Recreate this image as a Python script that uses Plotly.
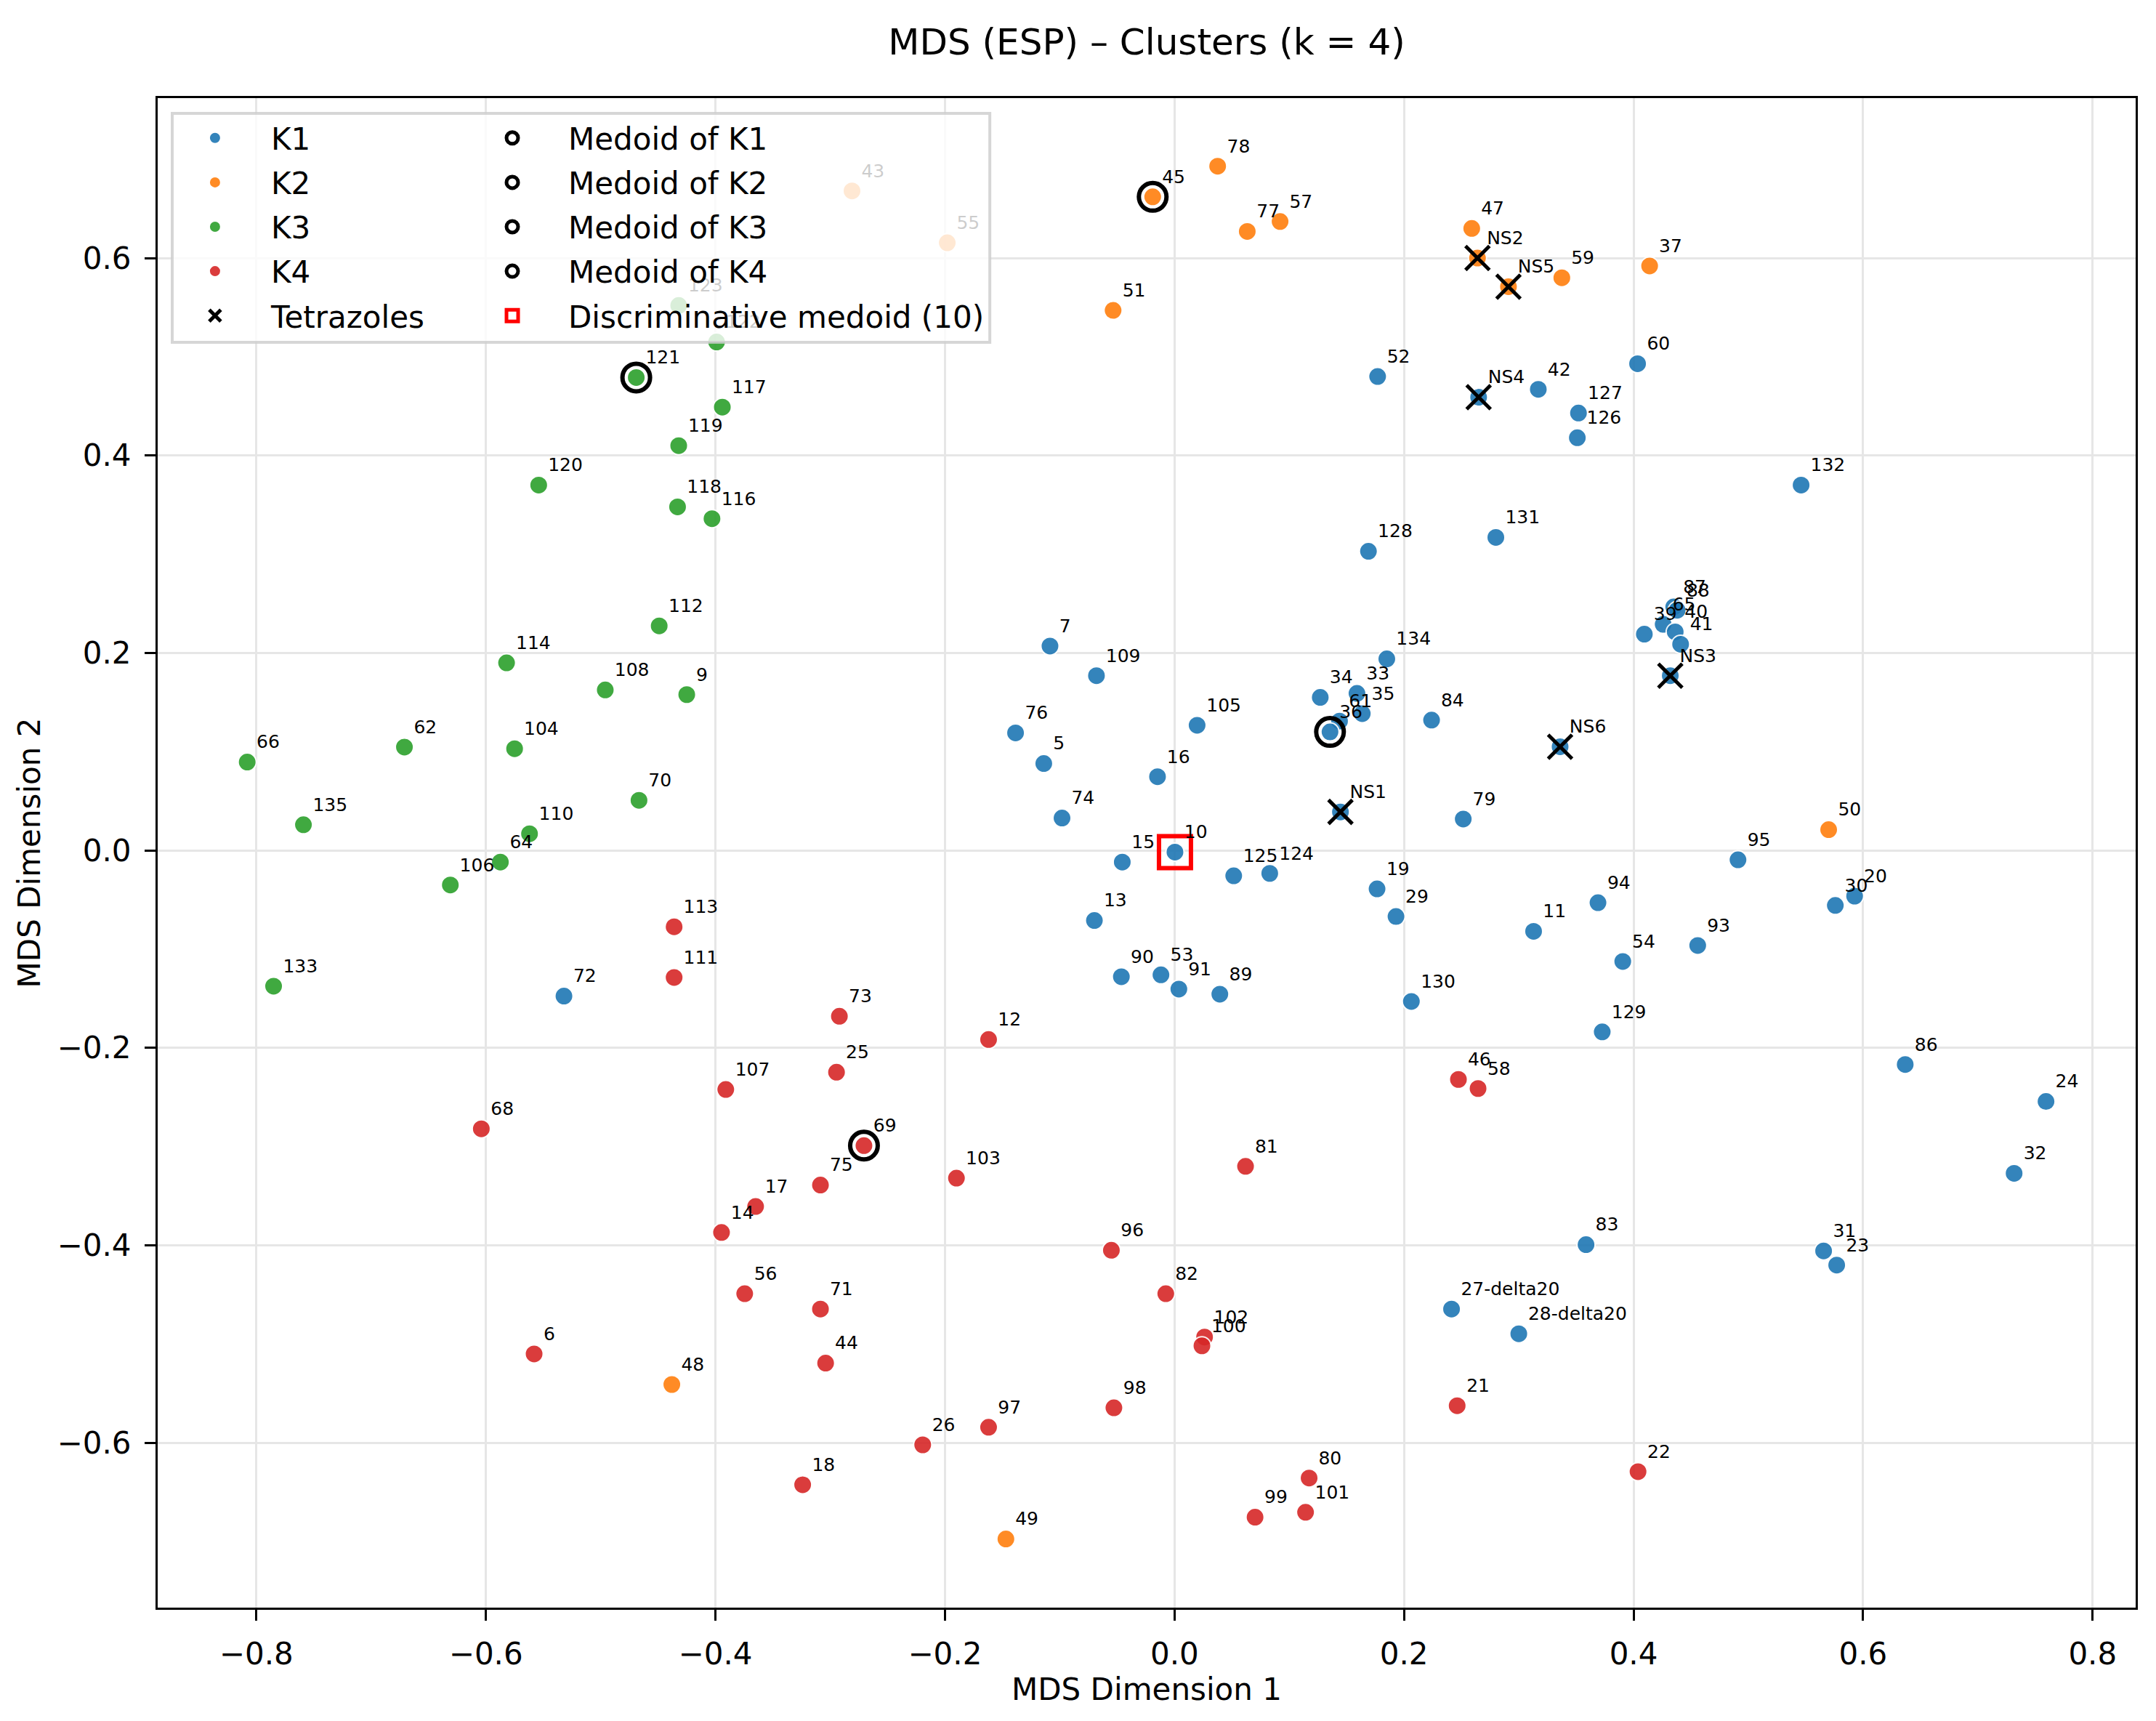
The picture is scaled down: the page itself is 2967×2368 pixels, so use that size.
import plotly.graph_objects as go

FONT = "DejaVu Sans"

# ---------------- data ----------------
k1_labels = ["52", "42", "60", "127", "126", "132", "128", "131", "87", "88", "65", "39", "40", "41",
             "134", "34", "33", "35", "61", "36", "84", "7", "109", "76", "5", "105", "16", "74", "79",
             "10", "15", "125", "124", "19", "29", "11", "94", "95", "30", "20", "13", "90", "53", "91",
             "89", "130", "54", "93", "129", "86", "24", "32", "83", "31", "23", "27-delta20",
             "28-delta20", "72", "NS1", "NS3", "NS4", "NS6"]
k1_x = [0.177, 0.317, 0.4035, 0.352, 0.351, 0.546, 0.169, 0.280, 0.435, 0.438, 0.4258, 0.4094, 0.4363,
        0.441, 0.185, 0.127, 0.159, 0.1636, 0.1438, 0.1355, 0.224, -0.1085, -0.068, -0.1385, -0.1139,
        0.0197, -0.0148, -0.098, 0.2516, 0.0004, -0.0455, 0.0516, 0.083, 0.1765, 0.193, 0.3129, 0.369,
        0.491, 0.5758, 0.5926, -0.0698, -0.0463, -0.0118, 0.0038, 0.0395, 0.2064, 0.3906, 0.4559, 0.3727,
        0.6367, 0.7594, 0.7316, 0.3586, 0.5656, 0.577, 0.2414, 0.300, -0.532, 0.1446, 0.432, 0.265, 0.336]
k1_y = [0.480, 0.467, 0.493, 0.443, 0.418, 0.370, 0.303, 0.317, 0.2466, 0.2432, 0.229, 0.219, 0.2213,
        0.2088, 0.194, 0.155, 0.159, 0.1385, 0.131, 0.120, 0.132, 0.207, 0.177, 0.119, 0.088, 0.1267,
        0.0747, 0.0328, 0.0318, -0.0017, -0.0118, -0.0257, -0.0233, -0.039, -0.067, -0.082, -0.053,
        -0.0095, -0.0557, -0.0463, -0.071, -0.128, -0.126, -0.1405, -0.1456, -0.153, -0.1125, -0.0963,
        -0.1838, -0.2169, -0.2543, -0.3271, -0.3993, -0.4057, -0.420, -0.4646, -0.4896, -0.1476, 0.039,
        0.177, 0.459, 0.105]

k2_labels = ["43", "55", "45", "78", "77", "57", "51", "47", "59", "37", "50", "48", "49", "NS2", "NS5"]
k2_x = [-0.281, -0.198, -0.019, 0.0376, 0.0634, 0.092, -0.0535, 0.259, 0.3375, 0.414, 0.570, -0.438,
        -0.1469, 0.264, 0.291]
k2_y = [0.668, 0.6155, 0.662, 0.693, 0.627, 0.637, 0.547, 0.630, 0.580, 0.592, 0.021, -0.541, -0.6975,
        0.600, 0.571]

k3_labels = ["123", "122", "121", "117", "119", "120", "118", "116", "112", "114", "108", "9", "66",
             "62", "104", "70", "135", "110", "64", "106", "133"]
k3_x = [-0.432, -0.399, -0.469, -0.394, -0.432, -0.554, -0.433, -0.403, -0.449, -0.582, -0.496, -0.425,
        -0.808, -0.671, -0.575, -0.4666, -0.759, -0.562, -0.5874, -0.631, -0.785]
k3_y = [0.552, 0.515, 0.479, 0.449, 0.410, 0.370, 0.348, 0.336, 0.2274, 0.190, 0.1625, 0.1578, 0.0895,
        0.1047, 0.103, 0.0507, 0.026, 0.0169, -0.0118, -0.035, -0.1375]

k4_labels = ["113", "111", "73", "12", "107", "25", "68", "69", "103", "81", "46", "58", "75", "17",
             "14", "96", "56", "71", "82", "102", "100", "6", "44", "98", "97", "26", "18", "99", "101",
             "80", "21", "22"]
k4_x = [-0.436, -0.436, -0.292, -0.162, -0.391, -0.2945, -0.604, -0.2706, -0.190, 0.0619, 0.2474, 0.2645,
        -0.3085, -0.365, -0.3947, -0.055, -0.3745, -0.3085, -0.0076, 0.0262, 0.0239, -0.558, -0.304,
        -0.0528, -0.162, -0.2194, -0.324, 0.0702, 0.1142, 0.1173, 0.2463, 0.4039]
k4_y = [-0.0774, -0.1287, -0.168, -0.1916, -0.2422, -0.2247, -0.282, -0.299, -0.332, -0.320, -0.232,
        -0.2412, -0.339, -0.3607, -0.387, -0.405, -0.449, -0.4646, -0.449, -0.4929, -0.5018, -0.510,
        -0.5193, -0.5646, -0.5843, -0.6021, -0.6425, -0.6754, -0.6704, -0.6357, -0.5625, -0.6293]

cluster_names = ["K1", "K2", "K3", "K4"]
cluster_colors = ["#1f77b4", "#ff7f0e", "#2ca02c", "#d62728"]
tetrazole_labels = ["NS1", "NS2", "NS3", "NS4", "NS5", "NS6"]
medoid_labels = ["36", "45", "121", "69"]
discriminative_label = "10"

x_ticks = [-0.8, -0.6, -0.4, -0.2, 0.0, 0.2, 0.4, 0.6, 0.8]
y_ticks = [-0.6, -0.4, -0.2, 0.0, 0.2, 0.4, 0.6]

# ---------------- figure ----------------
clusters = [(k1_labels, k1_x, k1_y), (k2_labels, k2_x, k2_y),
            (k3_labels, k3_x, k3_y), (k4_labels, k4_x, k4_y)]
lookup = {}
for labs, xs, ys in clusters:
    for lab, xv, yv in zip(labs, xs, ys):
        lookup[lab] = (xv, yv)

fig = go.Figure()

for (labs, xs, ys), name, color in zip(clusters, cluster_names, cluster_colors):
    fig.add_trace(go.Scatter(
        x=xs, y=ys, mode="markers", name=name, text=labs, legend="legend", legendgroup=name,
        marker=dict(color=color, size=25, opacity=0.9, line=dict(color="white", width=2)),
        hovertemplate="%{text}<br>(%{x:.3f}, %{y:.3f})<extra>" + name + "</extra>"))

fig.add_trace(go.Scatter(
    x=[lookup[t][0] for t in tetrazole_labels], y=[lookup[t][1] for t in tetrazole_labels],
    mode="markers", name="Tetrazoles", legend="legend", legendgroup="tet", text=tetrazole_labels,
    marker=dict(symbol="x-thin-open", size=33, color="black", line=dict(color="black", width=5))))

for i, m in enumerate(medoid_labels):
    fig.add_trace(go.Scatter(
        x=[lookup[m][0]], y=[lookup[m][1]], mode="markers", name=f"Medoid of K{i + 1}",
        legend="legend2", legendgroup=f"med{i}", text=[m],
        marker=dict(symbol="circle-open", size=38, color="black", line=dict(color="black", width=6))))

fig.add_trace(go.Scatter(
    x=[lookup[discriminative_label][0]], y=[lookup[discriminative_label][1]], mode="markers",
    name=f"Discriminative medoid ({discriminative_label})", legend="legend2", legendgroup="disc",
    marker=dict(symbol="square-open", size=44, color="red", line=dict(color="red", width=6))))

all_labels = [l for labs, _, _ in clusters for l in labs]
all_x = [v for _, xs, _ in clusters for v in xs]
all_y = [v for _, _, ys in clusters for v in ys]
fig.add_trace(go.Scatter(
    x=all_x, y=all_y, mode="markers+text", text=all_labels, textposition="top right",
    textfont=dict(size=25, color="black", family=FONT),
    marker=dict(size=19, color="rgba(0,0,0,0)"), showlegend=False, hoverinfo="skip"))

axis_common = dict(
    showgrid=True, gridcolor="#e6e6e6", gridwidth=3, zeroline=False,
    showline=True, linecolor="black", linewidth=3, mirror=True,
    ticks="outside", ticklen=15, tickwidth=3, tickcolor="black",
    tickfont=dict(size=42, color="black", family=FONT), tickformat=".1f",
    ticklabelstandoff=10)

legend_common = dict(xanchor="left", yanchor="top", bgcolor="rgba(0,0,0,0)", borderwidth=0,
                     itemwidth=144, tracegroupgap=3.5, traceorder="grouped",
                     font=dict(size=42, color="black", family=FONT))

fig.update_layout(
    width=2967, height=2368,
    margin=dict(l=217, r=28, t=135, b=156),
    paper_bgcolor="white", plot_bgcolor="white",
    font=dict(family=FONT, color="black"),
    title=dict(text="MDS (ESP) – Clusters (k = 4)", x=0.5, xref="paper", xanchor="center",
               y=1 - 57 / 2368, yref="container", yanchor="middle",
               font=dict(size=50, color="black", family=FONT)),
    xaxis=dict(range=[-0.886, 0.8375], tickvals=x_ticks,
               title=dict(text="MDS Dimension 1", font=dict(size=42, color="black"), standoff=0),
               **axis_common),
    yaxis=dict(range=[-0.767, 0.762], tickvals=y_ticks,
               title=dict(text="MDS Dimension 2", font=dict(size=42, color="black"), standoff=10),
               **axis_common),
    legend=dict(x=0.0007, y=0.9899, **legend_common),
    legend2=dict(x=0.151, y=0.9899, **legend_common),
    shapes=[dict(type="rect", xref="paper", yref="paper", x0=0.00735, x1=0.4207, y0=0.8382, y1=0.9899,
                 fillcolor="rgba(255,255,255,0.8)", line=dict(color="rgba(204,204,204,0.8)", width=4),
                 layer="above")],
    showlegend=True,
)

fig.write_html("out.html", config={"displayModeBar": False},
               post_script="document.body.style.margin='0';document.body.style.overflow='hidden';")
